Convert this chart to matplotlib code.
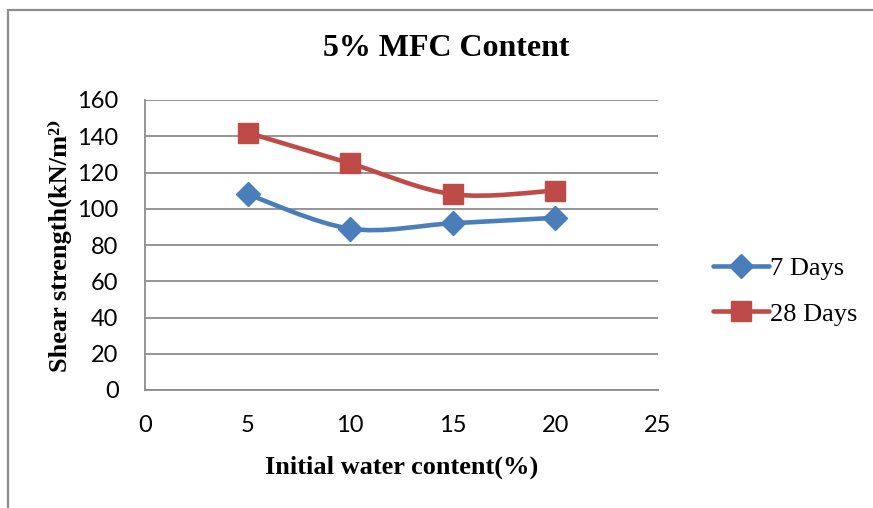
import matplotlib
matplotlib.use("Agg")
import matplotlib.pyplot as plt
import numpy as np
from matplotlib.path import Path
from matplotlib.patches import PathPatch, Rectangle
from matplotlib.lines import Line2D

# data
water_content = [5, 10, 15, 20]
days7 = [108, 89, 92, 95]
days28 = [142, 125, 108, 110]
series_names = ["7 Days", "28 Days"]

blue = "#4A7EBB"
red = "#BE4B48"
grid_col = "#8C8C8C"


def smooth_path(x, y):
    # Excel-like smoothed line: cubic bezier through the points
    pts = np.column_stack([x, y]).astype(float)
    verts = [pts[0]]
    codes = [Path.MOVETO]
    n = len(pts)
    for i in range(n - 1):
        p0 = pts[max(i - 1, 0)]
        p1 = pts[i]
        p2 = pts[i + 1]
        p3 = pts[min(i + 2, n - 1)]
        verts += [p1 + (p2 - p0) / 6, p2 - (p3 - p1) / 6, p2]
        codes += [Path.CURVE4] * 3
    return Path(verts, codes)


fig = plt.figure(figsize=(8.73, 5.08), dpi=100)
ax = fig.add_axes([145 / 873, 118 / 508, 513 / 873, 290 / 508])

# outer chart border
fig.patches.append(Rectangle((8 / 873, -0.1), 1.2, 1.0 - 10 / 508 + 0.1,
                             transform=fig.transFigure, fill=False,
                             edgecolor="#8C8C8C", linewidth=1.6))

ax.set_xlim(0, 25)
ax.set_ylim(0, 160)
ax.set_xticks(range(0, 26, 5))
ax.set_yticks(range(0, 161, 20))
ax.yaxis.grid(True, color=grid_col, linewidth=1.3)
ax.set_axisbelow(True)
for s in ["top", "right"]:
    ax.spines[s].set_visible(False)
for s in ["left", "bottom"]:
    ax.spines[s].set_color(grid_col)
    ax.spines[s].set_linewidth(1.3)
ax.tick_params(length=0, labelsize=17)
ax.tick_params(axis="y", pad=19)
ax.tick_params(axis="x", pad=18)
for lab in ax.get_xticklabels() + ax.get_yticklabels():
    lab.set_fontfamily("Lato")

handles = []
for vals, col, mk, ms, name in [(days7, blue, "D", 12, series_names[0]),
                                (days28, red, "s", 14, series_names[1])]:
    ax.add_patch(PathPatch(smooth_path(water_content, vals), fill=False,
                           edgecolor=col, linewidth=3.3, capstyle="round",
                           joinstyle="round", zorder=3))
    ax.plot(water_content, vals, linestyle="none", marker=mk, markersize=ms,
            color=col, zorder=4)
    handles.append(Line2D([], [], color=col, linewidth=3.3, marker=mk,
                          markersize=ms, solid_capstyle="round"))

serif = ["Liberation Serif", "DejaVu Serif"]
fig.text(446 / 873, 1 - 49 / 508, "5% MFC Content", ha="center", va="center",
         fontsize=23, fontweight="bold", family=serif)
ax.set_xlabel("Initial water content(%)", fontsize=19, fontweight="bold",
              family=serif, labelpad=14)
ax.set_ylabel("Shear strength(kN/m\u00b2\u207e", fontsize=19, fontweight="bold",
              family=serif, labelpad=4)

fig.legend(handles, series_names, loc="center left",
           bbox_to_anchor=(700 / 873, 1 - 291 / 508), frameon=False,
           prop={"family": serif, "size": 19}, handlelength=2.1,
           handletextpad=0.05, labelspacing=0.85, borderpad=0)

fig.savefig("out.png", dpi=100)
